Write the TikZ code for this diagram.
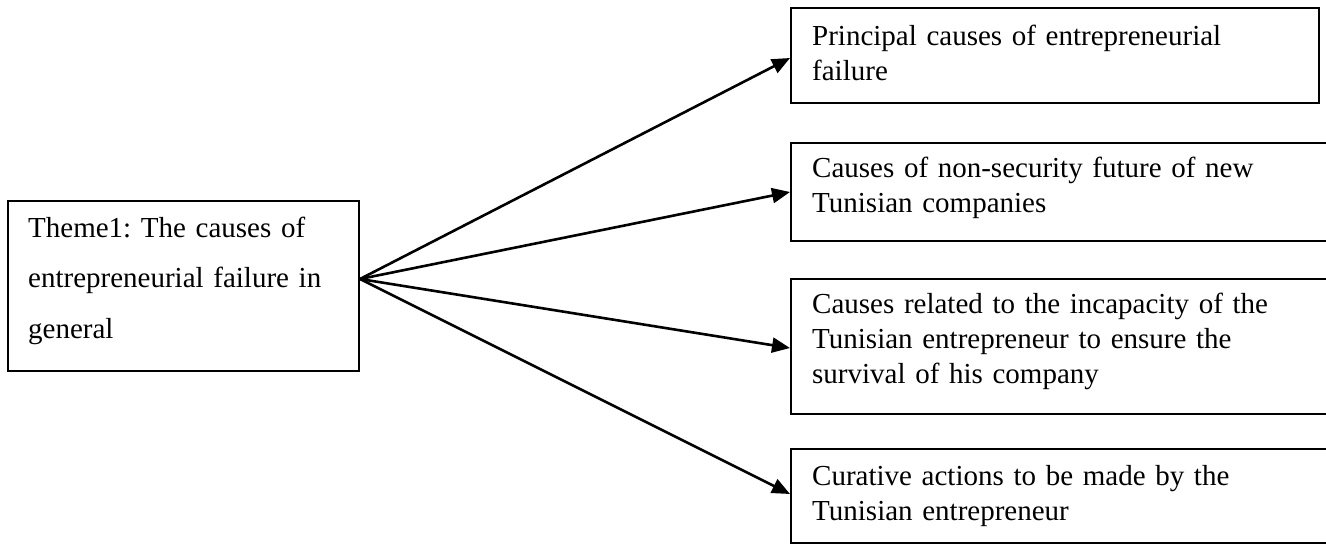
\documentclass[tikz,border=0pt]{standalone}
\usepackage{fontspec}
\setmainfont{Liberation Serif}
\usetikzlibrary{arrows.meta,calc}
\begin{document}
\frenchspacing
\begin{tikzpicture}[x=1pt,y=-1pt,
  boxshape/.style={draw=black, line width=2pt, rectangle, inner sep=0pt, anchor=north west},
  righttext/.style={anchor=base west, inner sep=0pt, text width=520pt, align=left,
    font=\fontsize{29}{35}\selectfont},
  lefttext/.style={anchor=base west, inner sep=0pt, text width=330pt, align=left,
    font=\fontsize{29}{50.5}\selectfont},
  conn/.style={line width=2.6pt, -{Triangle[length=18pt,width=15pt]}}
]
\useasboundingbox (0,0) rectangle (1326,544);
\clip (0,0) rectangle (1326,544);

% left box
\node[boxshape, minimum width=351pt, minimum height=170pt] (L) at (7,200) {};
\node[lefttext] (Lt) at (28,237) {Theme1: The causes of\\entrepreneurial failure in\\general};

% right boxes
\node[boxshape, minimum width=528pt, minimum height=95pt] (B1) at (790,7) {};
\node[righttext] (T1) at (812,45) {Principal causes of entrepreneurial\\failure};

\node[boxshape, minimum width=560pt, minimum height=98pt] (B2) at (790,142) {};
\node[righttext] (T2) at (812,177) {Causes of non-security future of new\\Tunisian companies};

\node[boxshape, minimum width=560pt, minimum height=135pt] (B3) at (790,278) {};
\node[righttext] (T3) at (812,313) {Causes related to the incapacity of the\\Tunisian entrepreneur to ensure the\\survival of his company};

\node[boxshape, minimum width=560pt, minimum height=94pt] (B4) at (790,448) {};
\node[righttext] (T4) at (812,485) {Curative actions to be made by the\\Tunisian entrepreneur};

% connectors
\coordinate (O) at ($(L.east)+(0,-7)$);
\coordinate (E1) at ($(B1.west)+(0,2.5)$);
\coordinate (E3) at ($(B3.west)+(0,1.5)$);
\coordinate (E4) at ($(B4.west)+(0,-2)$);
\draw[conn] (O) -- (E1);
\draw[conn] (O) -- (B2.west);
\draw[conn] (O) -- (E3);
\draw[conn] (O) -- (E4);
\end{tikzpicture}
\end{document}
